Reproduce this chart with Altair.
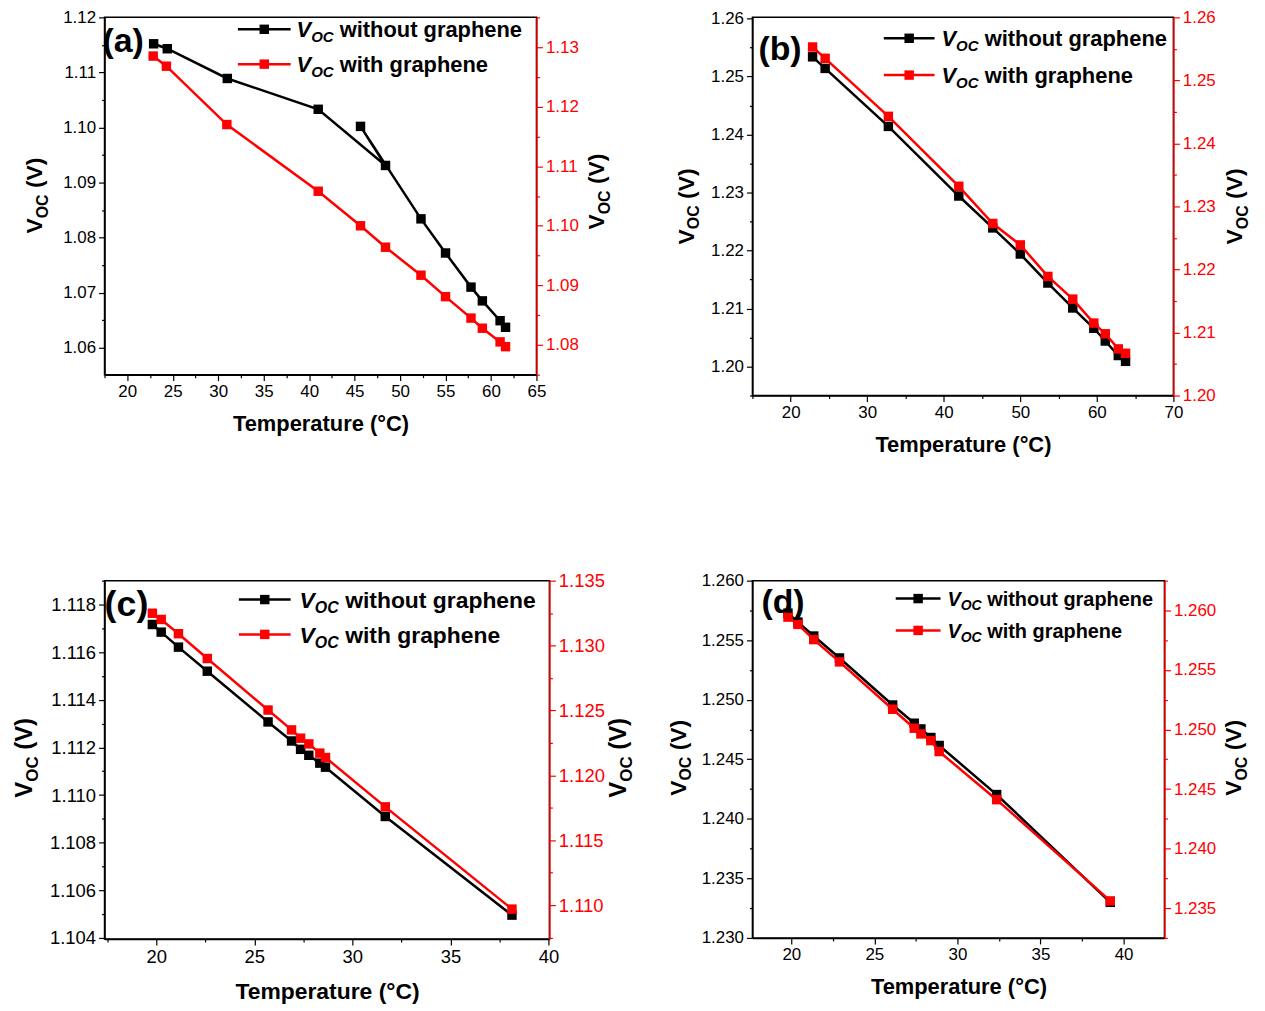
import math
import altair as alt
import pandas as pd

FONT = "Liberation Sans"
BLACK = "#000000"
RED = "#ff0000"

# ---------------- data ----------------
# panel (a) -- black series listed in drawing order
a_temp_wo = [22.9, 24.4, 31.0, 41.0, 48.4, 45.65, 52.3, 55.0, 57.8, 59.05, 61.0, 61.6]
a_voc_wo = [1.1152, 1.1143, 1.1089, 1.1033, 1.0931, 1.1002, 1.0834, 1.0772, 1.0710, 1.0685, 1.0649, 1.0637]
a_temp_w = [22.85, 24.3, 30.95, 41.0, 45.65, 48.4, 52.3, 55.0, 57.8, 59.05, 61.0, 61.6]
a_voc_w = [1.1285, 1.1268, 1.1170, 1.1058, 1.1000, 1.0964, 1.0917, 1.0881, 1.0845, 1.0828, 1.0805, 1.0797]

# panel (b)
b_temp = [22.86, 24.5, 32.76, 41.96, 46.4, 50.0, 53.6, 56.85, 59.6, 61.1, 62.8, 63.75]
b_voc_wo = [1.2534, 1.2514, 1.2414, 1.2294, 1.2239, 1.2194, 1.2144, 1.2101, 1.2066, 1.2044, 1.2019, 1.2009]
b_voc_w = [1.2553, 1.2535, 1.2443, 1.2332, 1.2273, 1.2239, 1.2189, 1.2153, 1.2115, 1.2098, 1.2074, 1.2067]

# panel (c)
c_temp = [19.8, 20.25, 21.13, 22.6, 25.7, 26.9, 27.36, 27.78, 28.34, 28.63, 31.68, 38.14]
c_voc_wo = [1.11716, 1.11684, 1.11621, 1.11520, 1.11307, 1.11227, 1.11192, 1.11167, 1.11134, 1.11117, 1.10910, 1.10496]
c_voc_w = [1.13249, 1.13201, 1.13091, 1.12900, 1.12503, 1.12350, 1.12286, 1.12242, 1.12171, 1.12137, 1.11757, 1.10969]

# panel (d)
d_temp = [19.8, 20.4, 21.35, 22.9, 26.1, 27.4, 27.8, 28.4, 28.9, 32.36, 39.2]
d_voc_wo = [1.25727, 1.25652, 1.25535, 1.25351, 1.24956, 1.24803, 1.24755, 1.24683, 1.24616, 1.24204, 1.23299]
d_voc_w = [1.25944, 1.25883, 1.25755, 1.25568, 1.25170, 1.25011, 1.24963, 1.24907, 1.24815, 1.24411, 1.23561]

LEG_WO = "without graphene"
LEG_W = "with graphene"
X_TITLE = "Temperature (°C)"

dummy = pd.DataFrame({"k": [0]})


def make_axis(orient, dom, step, fmt, color, lfs, title=None, tfs=22):
    minor = step / 2.0
    k0 = math.ceil(dom[0] / minor - 1e-6)
    k1 = math.floor(dom[1] / minor + 1e-6)
    vals = [round(k * minor, 6) for k in range(k0, k1 + 1)]
    test = f"abs(datum.value/{step} - round(datum.value/{step})) > 0.25"
    kw = dict(
        orient=orient,
        values=vals,
        labelExpr=f"{test} ? '' : format(datum.value, '{fmt}')",
        tickSize={"condition": {"test": test, "value": 3}, "value": 6},
        domainColor=color,
        tickColor=color,
        labelColor=color,
        grid=False,
        labelOverlap=False,
        labelFlush=False,
        labelBound=False,
        labelFont=FONT,
        labelFontSize=lfs,
        labelPadding=3,
        domainWidth=1.5,
        tickWidth=1.2,
    )
    if title is None:
        kw["title"] = None
    else:
        kw.update(title=title, titleFont=FONT, titleFontSize=tfs, titleFontWeight="bold",
                  titleColor=BLACK, titlePadding=14)
    return alt.Axis(**kw)


def txt(text, x, y, fs, color=BLACK, style="normal", angle=0, baseline="alphabetic"):
    props = dict(text=text, font=FONT, fontSize=fs, fontWeight="bold", color=color,
                 align="left", baseline=baseline, fontStyle=style)
    if angle:
        props["angle"] = angle
    return alt.Chart(dummy).mark_text(**props).encode(x=alt.value(x), y=alt.value(y))


def ytitle(xb, yc, fs=23):
    sub = round(fs * 0.7)
    wV = 0.667 * fs
    wOC = 1.5 * sub
    wsp = 0.278 * fs
    wPV = 1.333 * fs
    y0 = yc + (wV + wOC + wsp + wPV) / 2.0
    return [
        txt("V", xb, y0, fs, angle=270),
        txt("OC", xb + 0.25 * fs, y0 - wV, sub, angle=270),
        txt("(V)", xb, y0 - wV - wOC - wsp, fs, angle=270),
    ]


def legend_row(x1, x2, y, color, xt, rest, fs):
    sub = round(fs * 0.7)
    wV = 0.667 * fs
    wOC = 1.5 * sub
    yb = y + 0.36 * fs
    line = alt.Chart(dummy).mark_rule(color=color, strokeWidth=2.5).encode(
        x=alt.value(x1), x2=alt.value(x2), y=alt.value(y))
    sq = alt.Chart(dummy).mark_point(shape="square", filled=True, size=90, opacity=1,
                                     color=color).encode(
        x=alt.value((x1 + x2) / 2.0), y=alt.value(y))
    return [
        line, sq,
        txt("V", xt, yb, fs, style="italic"),
        txt("OC", xt + wV, yb + 0.22 * fs, sub, style="italic"),
        txt(rest, xt + wV + wOC + 0.28 * fs, yb, fs),
    ]


def panel(t_wo, v_wo, t_w, v_w, W, H, xdom, xstep, ldom, lstep, lfmt, rdom, rstep, rfmt,
          label, labpos, leg, ytl, ytr, lfs=17, tfs=22, yfs=23, labfs=34):
    df_wo = pd.DataFrame({"T": t_wo, "V": v_wo, "seq": list(range(len(t_wo)))})
    df_w = pd.DataFrame({"T": t_w, "V": v_w, "seq": list(range(len(t_w)))})
    xaxis = make_axis("bottom", xdom, xstep, ".0f", BLACK, lfs, title=X_TITLE, tfs=tfs)
    xenc = alt.X("T:Q", scale=alt.Scale(domain=xdom, nice=False, zero=False), axis=xaxis)

    yl = alt.Y("V:Q", scale=alt.Scale(domain=ldom, nice=False, zero=False),
               axis=make_axis("left", ldom, lstep, lfmt, BLACK, lfs))
    yr = alt.Y("V:Q", scale=alt.Scale(domain=rdom, nice=False, zero=False),
               axis=make_axis("right", rdom, rstep, rfmt, RED, lfs))

    base_wo = alt.Chart(df_wo).encode(x=xenc, y=yl, order=alt.Order("seq:Q"))
    left = alt.layer(
        base_wo.mark_line(color=BLACK, strokeWidth=2.5),
        base_wo.mark_point(shape="square", filled=True, size=90, opacity=1, color=BLACK),
    )
    base_w = alt.Chart(df_w).encode(x=xenc, y=yr, order=alt.Order("seq:Q"))
    right = alt.layer(
        base_w.mark_line(color=RED, strokeWidth=2.5),
        base_w.mark_point(shape="square", filled=True, size=90, opacity=1, color=RED),
    )

    lx1, lx2, xt, r1, r2, fs = leg
    annots = []
    annots.append(txt(label, labpos[0], labpos[1], labfs, baseline="middle"))
    annots += legend_row(lx1, lx2, r1, BLACK, xt, LEG_WO, fs)
    annots += legend_row(lx1, lx2, r2, RED, xt, LEG_W, fs)
    annots += ytitle(ytl[0], ytl[1], yfs)
    annots += ytitle(ytr[0], ytr[1], yfs)

    return alt.layer(left, right, *annots).resolve_scale(y="independent").properties(
        width=W, height=H)


pa = panel(a_temp_wo, a_voc_wo, a_temp_w, a_voc_w, 434, 359,
           [17.5, 65], 5, [1.0551, 1.12], 0.01, ".2f", [1.075, 1.135], 0.01, ".2f",
           "(a)", (-2, 25), (134, 187, 193, 12, 47, 22), (-63, 179), (502, 175))
pb = panel(b_temp, b_voc_wo, b_temp, b_voc_w, 423, 380,
           [15, 70], 10, [1.195, 1.2602], 0.01, ".2f", [1.2, 1.26], 0.01, ".2f",
           "(b)", (6, 33), (132, 183, 190, 21, 58, 22), (-59, 190), (492, 190))
pc = panel(c_temp, c_voc_wo, c_temp, c_voc_w, 447, 360,
           [17.36, 40.05], 5, [1.10396, 1.119], 0.002, ".3f", [1.10739, 1.135], 0.005, ".3f",
           "(c)", (0, 25), (135, 187, 196, 19, 54, 23), (-73, 178), (524, 178),
           lfs=18.5, tfs=23, yfs=24, labfs=36)
pd_ = panel(d_temp, d_voc_wo, d_temp, d_voc_w, 414, 359,
            [17.66, 42.46], 5, [1.230, 1.260], 0.005, ".3f", [1.2325, 1.2625], 0.005, ".3f",
            "(d)", (9, 22), (144, 189, 196, 18, 50, 20), (-67, 178), (491, 178))

chart = alt.concat(
    pa, pb, pc, pd_, columns=2, bounds="flush", align="all",
    spacing={"row": 186, "column": 204},
    padding={"left": 4, "top": -3, "right": 5, "bottom": 5},
).configure_view(stroke=BLACK, strokeWidth=1.5)

chart.save("out.html", embed_options={"renderer": "svg", "actions": False})
